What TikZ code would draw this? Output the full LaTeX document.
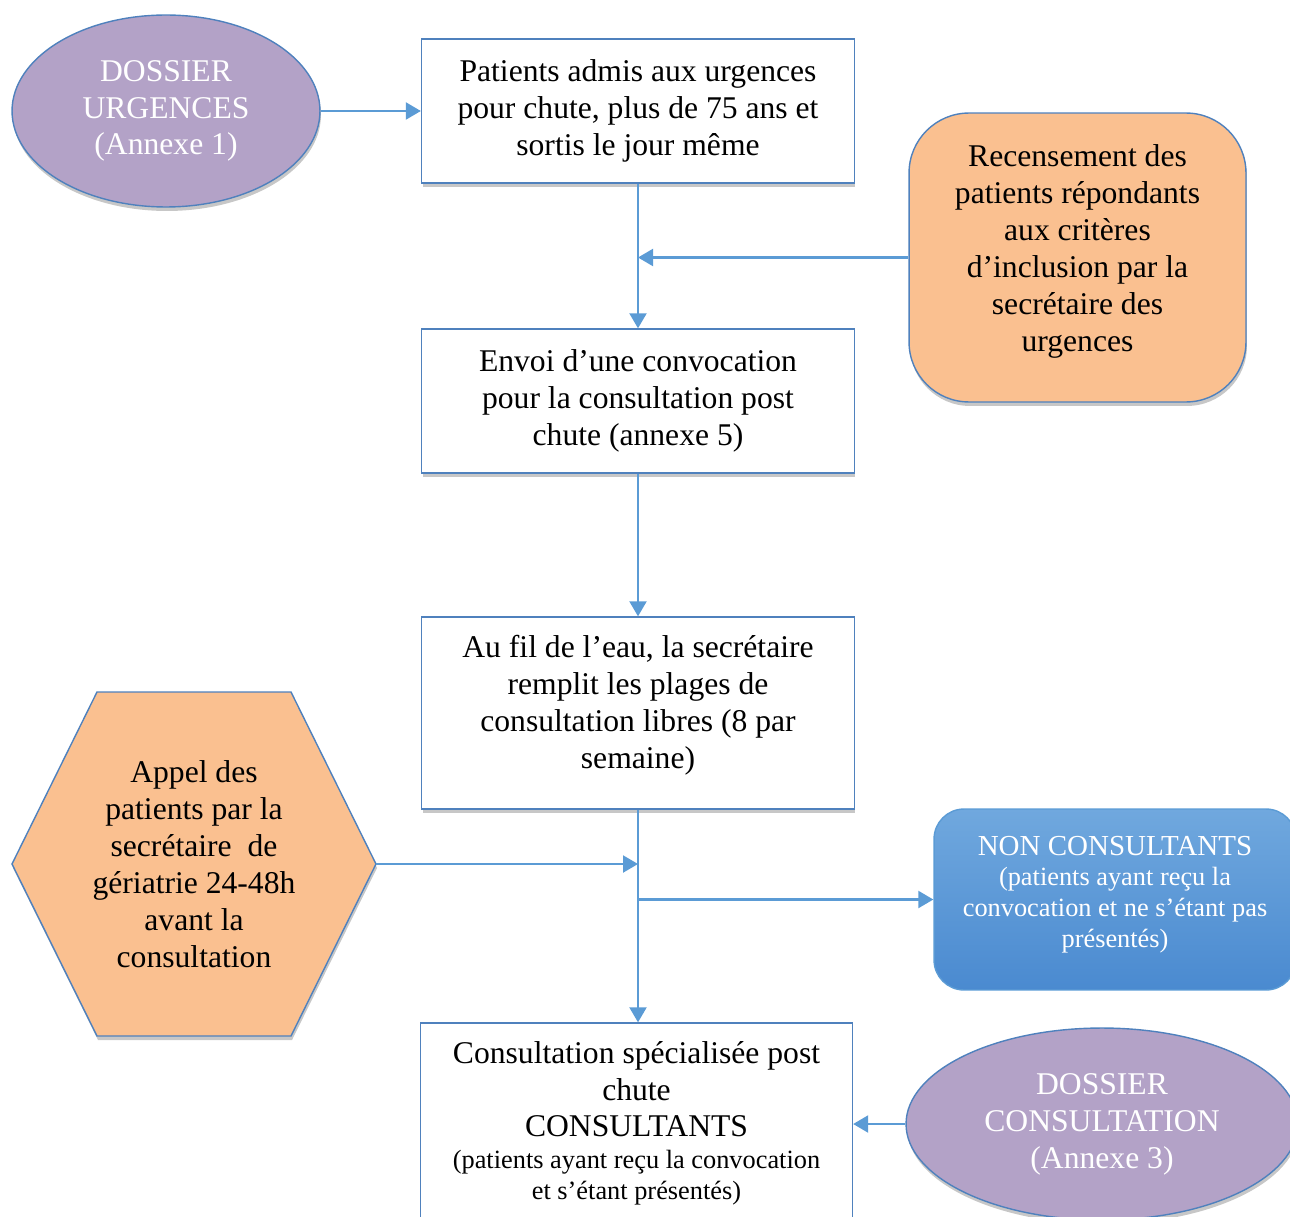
\documentclass[tikz,border=0pt]{standalone}
\usepackage{fontspec}
\setmainfont{Liberation Serif}
\usetikzlibrary{arrows.meta,shadows,shapes.geometric}
\definecolor{lineblue}{HTML}{5B9BD5}
\definecolor{edgeblue}{HTML}{4F81BD}
\definecolor{purplefill}{HTML}{B3A2C7}
\definecolor{orangefill}{HTML}{FAC090}
\definecolor{bluetop}{HTML}{70A8DE}
\definecolor{bluebot}{HTML}{4A8AD0}
\newcommand{\bigtxt}{\fontsize{18}{21}\selectfont}
\newcommand{\smalltxt}{\fontsize{15}{18}\selectfont}
\newcommand{\midtxt}{\fontsize{16.5}{19}\selectfont}
\begin{document}
\begin{tikzpicture}[x=0.02cm,y=-0.02cm,
  txt/.style={font=\bigtxt, align=center},
  shad/.style={drop shadow={shadow xshift=0.02cm, shadow yshift=-0.08cm, fill=black!22, opacity=1}},
  procbox/.style={draw=edgeblue, line width=0.8pt, fill=white, shad, txt, inner sep=0pt, minimum width=8.66cm},
  dossier/.style={ellipse, draw=edgeblue, line width=0.8pt, fill=purplefill, shad, txt, text=white, inner sep=0pt},
  flow/.style={draw=lineblue, line width=1.2pt, -{Triangle[length=0.3cm,width=0.34cm]}}
]
\useasboundingbox (0,0) rectangle (1290,1216);
\clip (0,0) rectangle (1290,1216);

% nodes
\node[dossier, minimum width=6.16cm, minimum height=3.84cm] (ell1) at (166,111) {DOSSIER\\URGENCES\\(Annexe 1)};
\node[procbox, minimum height=2.88cm] (box1) at (638,111) {Patients admis aux urgences\\pour chute, plus de 75 ans et\\sortis le jour même};
\node[draw=edgeblue, line width=0.8pt, fill=orangefill, rounded corners=1.2cm, shad, inner sep=0pt,
      minimum width=6.74cm, minimum height=5.78cm,
      label={[txt, yshift=0.12cm]center:{Recensement des\\patients répondants\\aux critères\\d’inclusion par la\\secrétaire des\\urgences}}] (orange) at (1077.5,257.5) {};
\node[procbox, minimum height=2.88cm] (box2) at (638,401) {Envoi d’une convocation\\pour la consultation post\\chute (annexe 5)};
\node[procbox, minimum height=3.84cm,
      label={[txt, yshift=0.15cm]center:{Au fil de l’eau, la secrétaire\\remplit les plages de\\consultation libres (8 par\\semaine)}}] (box3) at (638,713) {};

% hexagon
\path[draw=edgeblue, line width=0.8pt, fill=orangefill, shad]
  (97,692) -- (291,692) -- (376,864) -- (291,1036) -- (97,1036) -- (12,864) -- cycle;
\node[txt, inner sep=0pt, minimum width=7.28cm, minimum height=6.88cm] (hex) at (194,864)
  {Appel des\\patients par la\\secrétaire\ \ de\\gériatrie 24-48h\\avant la\\consultation};

\node[draw=lineblue, line width=0.8pt, rounded corners=0.6cm, top color=bluetop, bottom color=bluebot,
      inner sep=0pt, minimum width=7.24cm, minimum height=3.62cm,
      label={[text=white, align=center, font=\fontsize{15}{17.5}\selectfont, yshift=0.1cm]center:{{\midtxt NON CONSULTANTS}\\(patients ayant reçu la\\convocation et ne s’étant pas\\présentés)}}] (blue) at (1115,899.5) {};

\node[procbox, minimum width=8.64cm, minimum height=4.0cm]
  (box4) at (636.5,1123)
  {Consultation spécialisée post\\chute\\CONSULTANTS\\[-3pt]
   {\smalltxt (patients ayant reçu la convocation}\\[-3.5pt]
   {\smalltxt et s’étant présentés)}};

\node[dossier, minimum width=7.84cm, minimum height=3.84cm] (ell2) at (1102,1124) {DOSSIER\\CONSULTATION\\(Annexe 3)};

% junctions
\coordinate (m1) at (box1.south |- orange.west);
\coordinate (j1) at (box3.south |- hex.east);
\coordinate (j2) at (box3.south |- blue.west);

% connectors
\draw[flow] (ell1.east) -- (box1.west);
\draw[flow] (box1.south) -- (box2.north);
\draw[flow] (orange.west) -- (m1);
\draw[flow] (box2.south) -- (box3.north);
\draw[flow] (hex.east) -- (j1);
\draw[flow] (box3.south) -- (box3.south |- box4.north);
\draw[flow] (j2) -- (blue.west);
\draw[flow] (ell2.west) -- (box4.east |- ell2.west);
\end{tikzpicture}
\end{document}
